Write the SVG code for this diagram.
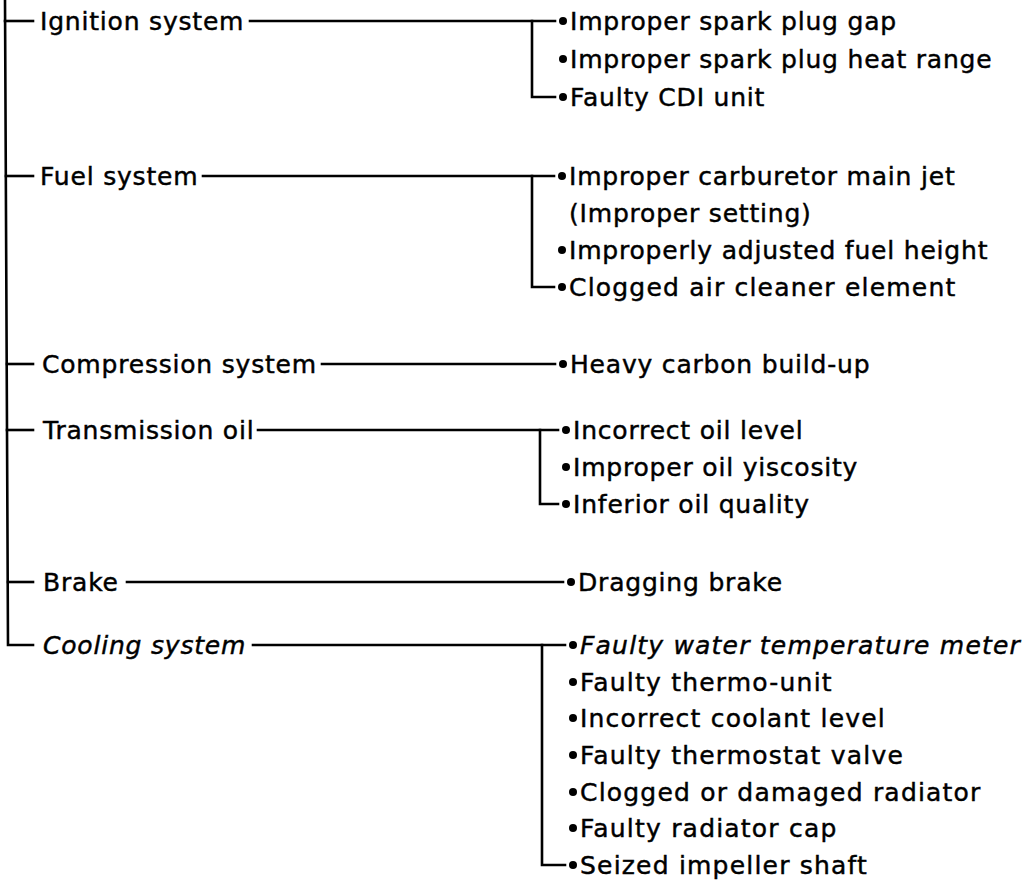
<svg xmlns="http://www.w3.org/2000/svg" width="1026" height="884" viewBox="0 0 1026 884">
<style>
.t{font-family:"DejaVu Sans","Liberation Sans",sans-serif;font-size:25px;letter-spacing:0.8px;fill:#000;stroke:#000;stroke-width:0.45}
.o{font-style:oblique}
.w{letter-spacing:1.2px}
.c{stroke:#000;stroke-width:2.6;fill:none;stroke-linecap:square;stroke-linejoin:miter}
.b{fill:#000}
</style>
<rect width="1026" height="884" fill="#fff"/>
<g id="connectors" class="c">
<path d="M5,0 L8,645 L33,645"/>
<path d="M5,21 H33"/><path d="M6,176 H33"/><path d="M7,364 H33"/><path d="M7,430 H33"/><path d="M8,582 H33"/>
<path d="M250,21 H555"/><path d="M532,21 V97 H555"/>
<path d="M203,176 H554"/><path d="M532,176 V287 H554"/>
<path d="M322,364 H555"/>
<path d="M258,430 H558"/><path d="M540,430 V504 H558"/>
<path d="M127,582 H563"/>
<path d="M253,645 H565"/><path d="M542,645 V865 H565"/>
</g>
<g id="ignition"><text class="t" x="40" y="30">Ignition system</text></g>
<g id="fuel"><text class="t" x="40" y="185">Fuel system</text></g>
<g id="compression"><text class="t" x="42" y="373">Compression system</text></g>
<g id="transmission"><text class="t" x="43" y="439">Transmission oil</text></g>
<g id="brake"><text class="t" x="43" y="591">Brake</text></g>
<g id="cooling"><text class="t o" x="43" y="654">Cooling system</text></g>
<g id="ignition-causes">
<circle class="b" cx="563" cy="21" r="4"/><text class="t" x="570" y="30">Improper spark plug gap</text>
<circle class="b" cx="563" cy="59" r="4"/><text class="t" x="570" y="68">Improper spark plug heat range</text>
<circle class="b" cx="563" cy="97" r="4"/><text class="t" x="570" y="106">Faulty CDI unit</text>
</g>
<g id="fuel-causes">
<circle class="b" cx="562" cy="176" r="4"/><text class="t" x="569" y="185">Improper carburetor main jet</text>
<text class="t" x="569" y="222">(Improper setting)</text>
<circle class="b" cx="562" cy="250" r="4"/><text class="t" x="569" y="259">Improperly adjusted fuel height</text>
<circle class="b" cx="562" cy="287" r="4"/><text class="t w" x="569" y="296">Clogged air cleaner element</text>
</g>
<g id="compression-causes">
<circle class="b" cx="563" cy="364" r="4"/><text class="t" x="570" y="373">Heavy carbon build-up</text>
</g>
<g id="transmission-causes">
<circle class="b" cx="566" cy="430" r="4"/><text class="t" x="573" y="439">Incorrect oil level</text>
<circle class="b" cx="566" cy="467" r="4"/><text class="t" x="573" y="476">Improper oil yiscosity</text>
<circle class="b" cx="566" cy="504" r="4"/><text class="t" x="573" y="513">Inferior oil quality</text>
</g>
<g id="brake-causes">
<circle class="b" cx="571" cy="582" r="4"/><text class="t" x="578" y="591">Dragging brake</text>
</g>
<g id="cooling-causes">
<circle class="b" cx="573" cy="645" r="4"/><text class="t o w" x="580" y="654">Faulty water temperature meter</text>
<circle class="b" cx="573" cy="682" r="4"/><text class="t w" x="580" y="691">Faulty thermo-unit</text>
<circle class="b" cx="573" cy="718" r="4"/><text class="t w" x="580" y="727">Incorrect coolant level</text>
<circle class="b" cx="573" cy="755" r="4"/><text class="t w" x="580" y="764">Faulty thermostat valve</text>
<circle class="b" cx="573" cy="792" r="4"/><text class="t w" x="580" y="801">Clogged or damaged radiator</text>
<circle class="b" cx="573" cy="828" r="4"/><text class="t w" x="580" y="837">Faulty radiator cap</text>
<circle class="b" cx="573" cy="865" r="4"/><text class="t w" x="580" y="874">Seized impeller shaft</text>
</g>
</svg>
